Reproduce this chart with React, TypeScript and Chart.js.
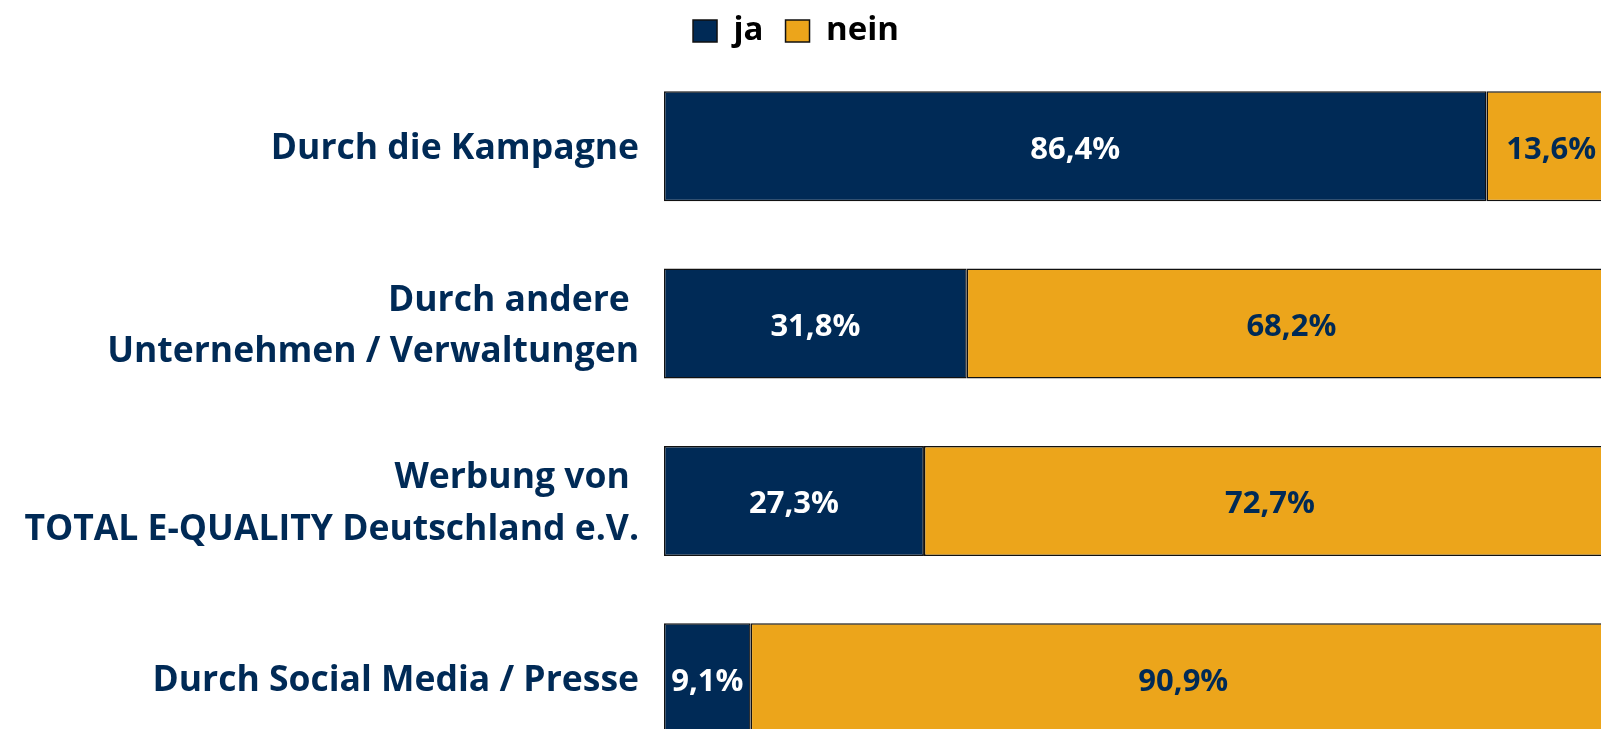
import React, { useEffect, useRef } from "react";
import { Chart, registerables } from "chart.js";

Chart.register(...registerables);

const categories: (string | string[])[] = [
  "Durch die Kampagne",
  ["Durch andere ", "Unternehmen / Verwaltungen"],
  ["Werbung von ", "TOTAL E-QUALITY Deutschland e.V."],
  "Durch Social Media / Presse",
];
const jaValues = [86.4, 31.8, 27.3, 9.1];
const neinValues = [13.6, 68.2, 72.7, 90.9];
const seriesNames = ["ja", "nein"];

const NAVY = "#002a56";
const GOLD = "#eca51b";
const FONT = "'Open Sans'";

const valueLabels = {
  id: "valueLabels",
  afterDatasetsDraw(chart: any) {
    const ctx = chart.ctx;
    ctx.save();
    ctx.font = `bold 31px ${FONT}`;
    ctx.textAlign = "center";
    ctx.textBaseline = "alphabetic";
    chart.data.datasets.forEach((ds: any, di: number) => {
      const meta = chart.getDatasetMeta(di);
      meta.data.forEach((el: any, i: number) => {
        const p = el.getProps(["x", "y", "base"], true);
        const cx = (p.x + p.base) / 2;
        const v = ds.data[i] as number;
        ctx.fillStyle = di === 0 ? "#ffffff" : NAVY;
        ctx.fillText(v.toFixed(1).replace(".", ",") + "%", cx, p.y + 12.5);
      });
    });
    ctx.restore();
  },
};

export default function App() {
  const ref = useRef<HTMLCanvasElement>(null);
  useEffect(() => {
    if (!ref.current) return;
    const chart = new Chart(ref.current, {
      type: "bar",
      data: {
        labels: categories,
        datasets: [
          {
            label: seriesNames[0],
            data: jaValues,
            backgroundColor: NAVY,
            borderColor: "#111111",
            borderWidth: 1.5,
            borderSkipped: false,
            clip: false as any,
          },
          {
            label: seriesNames[1],
            data: neinValues,
            backgroundColor: GOLD,
            borderColor: "#111111",
            borderWidth: 1.5,
            borderSkipped: false,
            clip: false as any,
          },
        ],
      },
      options: {
        indexAxis: "y",
        responsive: false,
        animation: false,
        datasets: { bar: { categoryPercentage: 1, barPercentage: 0.62 } },
        layout: { padding: { top: -12, right: 48, bottom: 0, left: 0 } },
        scales: {
          x: {
            stacked: true,
            min: 0,
            max: 97.48,
            display: false,
          },
          y: {
            stacked: true,
            grid: { display: false },
            border: { display: false },
            ticks: {
              color: NAVY,
              padding: 17,
              labelOffset: 3,
              font: { family: FONT, size: 35.5, weight: "bold", lineHeight: 1.44 },
            },
            afterFit(scale: any) {
              scale.width = 664;
              scale.paddingTop = 57.5;
              scale.paddingBottom = 13;
            },
          },
        },
        plugins: {
          legend: {
            position: "top",
            labels: {
              boxWidth: 24,
              boxHeight: 22,
              padding: 22,
              color: "#000000",
              font: { family: FONT, size: 33, weight: "bold" },
            },
          },
          tooltip: { enabled: false },
        },
      },
      plugins: [valueLabels],
    });
    return () => chart.destroy();
  }, []);
  return (
    <div
      style={{
        position: "fixed",
        left: 0,
        top: 0,
        width: 1601,
        height: 729,
        overflow: "hidden",
        background: "#ffffff",
      }}
    >
      <canvas ref={ref} width={1640} height={780} style={{ display: "block" }} />
    </div>
  );
}
